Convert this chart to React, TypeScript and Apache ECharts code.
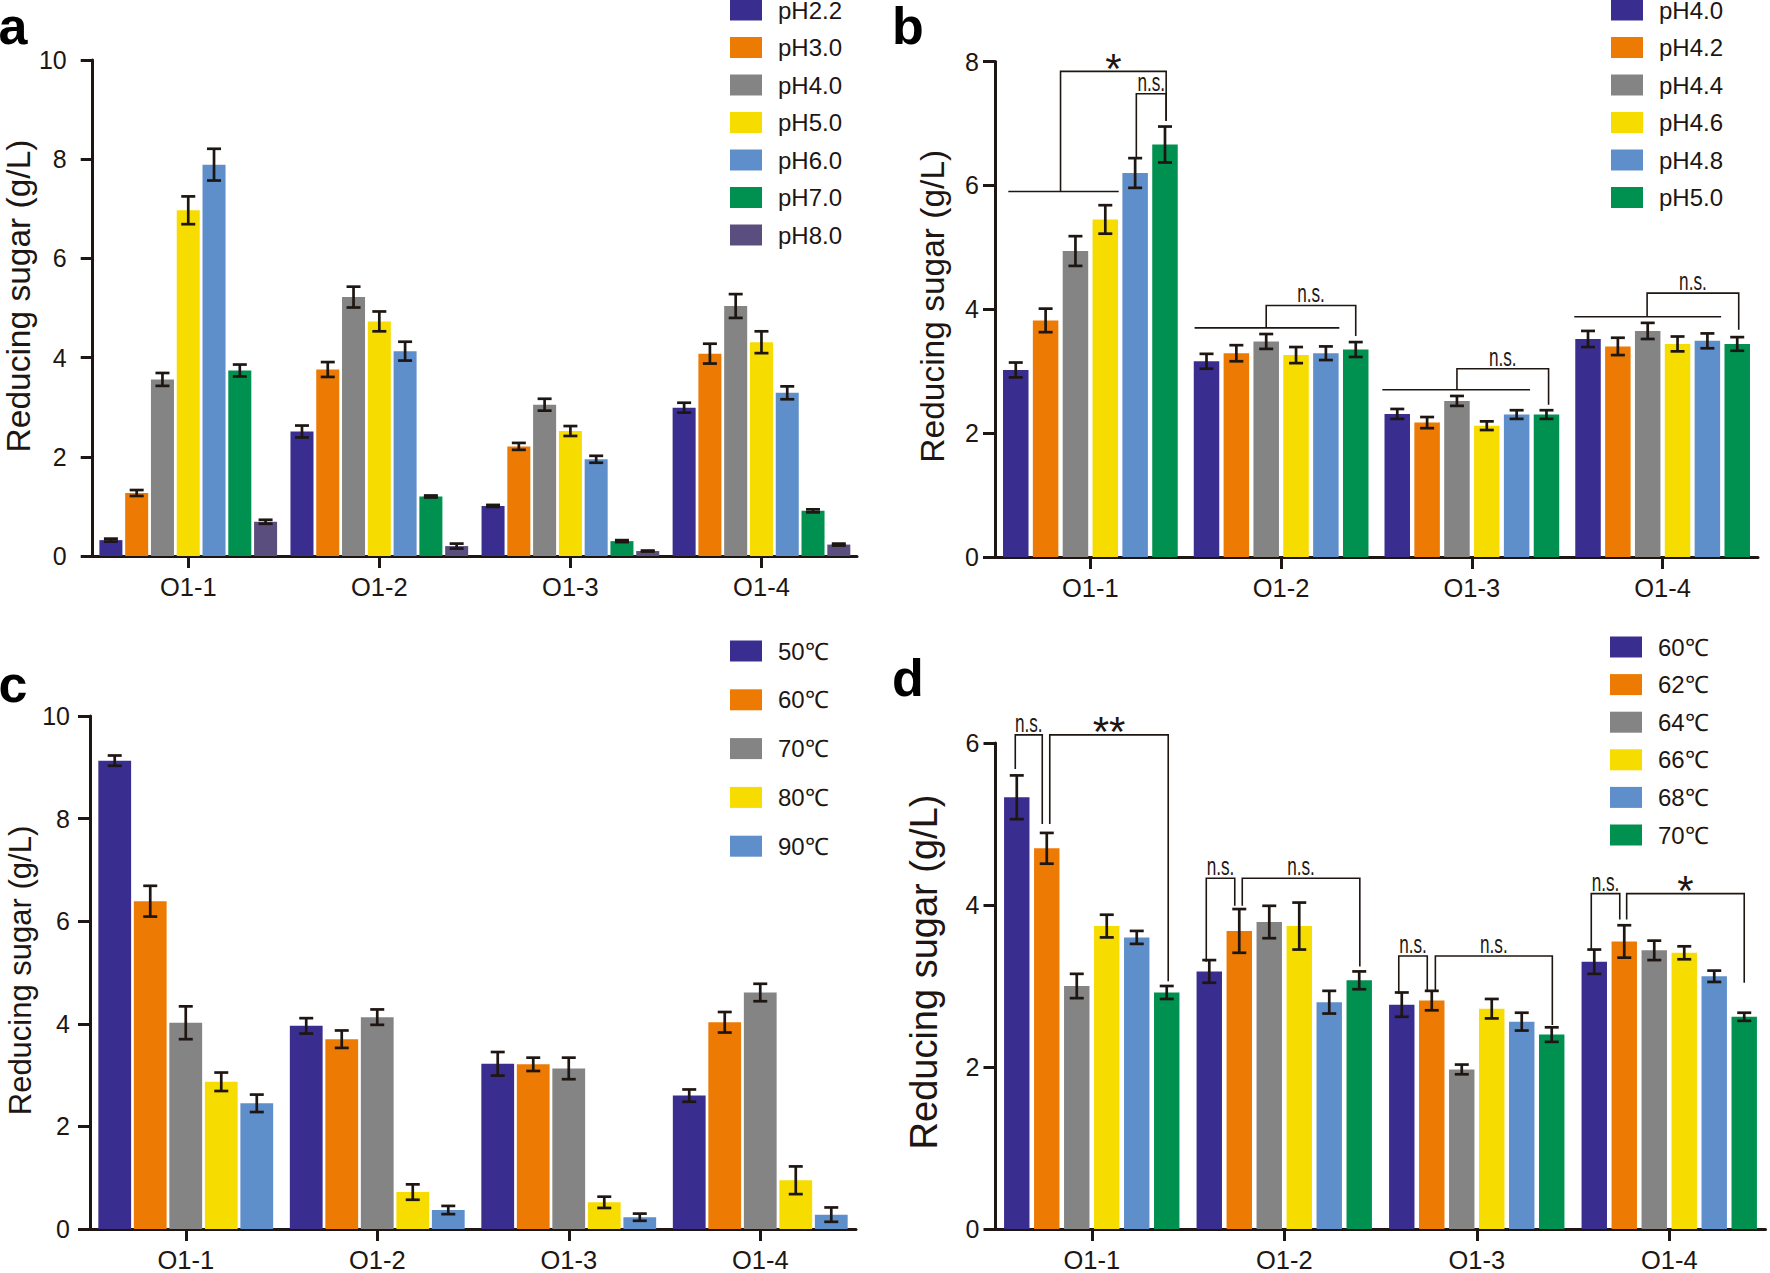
import React, { useEffect, useRef } from 'react';
import * as echarts from 'echarts';

const categories = ['O1-1', 'O1-2', 'O1-3', 'O1-4'];

const NAVY = '#392e8f';
const ORANGE = '#ec7a03';
const GRAY = '#848484';
const YELLOW = '#f7dc00';
const LBLUE = '#5f8fca';
const GREEN = '#009150';
const PURPLE = '#5a4e7e';

// ---- Panel a ----
const aNames = ['pH2.2', 'pH3.0', 'pH4.0', 'pH5.0', 'pH6.0', 'pH7.0', 'pH8.0'];
const aColors = [NAVY, ORANGE, GRAY, YELLOW, LBLUE, GREEN, PURPLE];
const aMeans = [
  [0.32, 2.51, 1.01, 2.99],
  [1.27, 3.76, 2.21, 4.08],
  [3.56, 5.22, 3.05, 5.04],
  [6.97, 4.73, 2.52, 4.31],
  [7.89, 4.13, 1.95, 3.29],
  [3.74, 1.2, 0.3, 0.91],
  [0.69, 0.2, 0.1, 0.23],
];
const aErrs = [
  [0.03, 0.12, 0.02, 0.1],
  [0.06, 0.15, 0.07, 0.2],
  [0.13, 0.21, 0.12, 0.24],
  [0.28, 0.2, 0.1, 0.22],
  [0.32, 0.19, 0.07, 0.13],
  [0.12, 0.02, 0.02, 0.03],
  [0.04, 0.05, 0.01, 0.02],
];

// ---- Panel b ----
const bNames = ['pH4.0', 'pH4.2', 'pH4.4', 'pH4.6', 'pH4.8', 'pH5.0'];
const bColors = [NAVY, ORANGE, GRAY, YELLOW, LBLUE, GREEN];
const bMeans = [
  [3.02, 3.16, 2.31, 3.52],
  [3.82, 3.29, 2.17, 3.4],
  [4.94, 3.48, 2.52, 3.65],
  [5.45, 3.26, 2.12, 3.44],
  [6.2, 3.29, 2.3, 3.49],
  [6.66, 3.35, 2.3, 3.44],
];
const bErrs = [
  [0.12, 0.12, 0.08, 0.13],
  [0.19, 0.13, 0.09, 0.14],
  [0.24, 0.12, 0.08, 0.13],
  [0.23, 0.13, 0.07, 0.12],
  [0.24, 0.11, 0.07, 0.12],
  [0.29, 0.12, 0.07, 0.11],
];
// significance annotations (category index, bar-slot positions, y values)
const bLines = [
  { cat: 0, from: -0.25, to: 3.45, y: 5.9 },
  { cat: 1, from: -0.4, to: 4.45, y: 3.7 },
  { cat: 2, from: -0.5, to: 4.45, y: 2.7 },
  { cat: 3, from: -0.46, to: 4.46, y: 3.88 },
];
const bBrackets = [
  { cat: 0, a: 1.5, ya: 5.9, b: 5.04, yb: 7.04, top: 7.84, text: '*' },
  { cat: 0, a: 4.04, ya: 6.45, b: 5.04, yb: 7.04, top: 7.48, text: 'n.s.' },
  { cat: 1, a: 2.0, ya: 3.7, b: 5.0, yb: 3.57, top: 4.06, text: 'n.s.' },
  { cat: 2, a: 2.0, ya: 2.7, b: 5.07, yb: 2.46, top: 3.04, text: 'n.s.' },
  { cat: 3, a: 1.98, ya: 3.88, b: 5.05, yb: 3.67, top: 4.26, text: 'n.s.' },
];

// ---- Panel c ----
const cNames = ['50℃', '60℃', '70℃', '80℃', '90℃'];
const cColors = [NAVY, ORANGE, GRAY, YELLOW, LBLUE];
const cMeans = [
  [9.13, 3.96, 3.22, 2.6],
  [6.39, 3.7, 3.21, 4.03],
  [4.02, 4.13, 3.13, 4.61],
  [2.87, 0.72, 0.52, 0.95],
  [2.45, 0.37, 0.23, 0.28],
];
const cErrs = [
  [0.1, 0.15, 0.23, 0.12],
  [0.3, 0.17, 0.13, 0.2],
  [0.32, 0.15, 0.21, 0.17],
  [0.18, 0.15, 0.11, 0.27],
  [0.17, 0.08, 0.07, 0.14],
];

// ---- Panel d ----
const dNames = ['60℃', '62℃', '64℃', '66℃', '68℃', '70℃'];
const dColors = [NAVY, ORANGE, GRAY, YELLOW, LBLUE, GREEN];
const dMeans = [
  [5.33, 3.18, 2.77, 3.3],
  [4.7, 3.68, 2.82, 3.55],
  [3.0, 3.79, 1.97, 3.44],
  [3.74, 3.74, 2.72, 3.41],
  [3.6, 2.8, 2.56, 3.12],
  [2.92, 3.07, 2.4, 2.62],
];
const dErrs = [
  [0.27, 0.14, 0.15, 0.15],
  [0.19, 0.27, 0.12, 0.2],
  [0.15, 0.2, 0.06, 0.12],
  [0.14, 0.29, 0.12, 0.08],
  [0.08, 0.14, 0.11, 0.07],
  [0.08, 0.11, 0.09, 0.05],
];
const dBrackets = [
  { cat: 0, a: -0.05, ya: 5.68, b: 0.85, yb: 5.0, top: 6.1, text: 'n.s.' },
  { cat: 0, a: 1.1, ya: 5.0, b: 5.05, yb: 3.06, top: 6.1, text: '**' },
  { cat: 1, a: -0.1, ya: 3.3, b: 0.85, yb: 3.99, top: 4.33, text: 'n.s.' },
  { cat: 1, a: 1.1, ya: 3.99, b: 5.02, yb: 3.24, top: 4.33, text: 'n.s.' },
  { cat: 2, a: -0.1, ya: 2.9, b: 0.85, yb: 2.95, top: 3.37, text: 'n.s.' },
  { cat: 2, a: 1.12, ya: 2.95, b: 5.02, yb: 2.52, top: 3.37, text: 'n.s.' },
  { cat: 3, a: -0.1, ya: 3.45, b: 0.85, yb: 3.82, top: 4.14, text: 'n.s.' },
  { cat: 3, a: 1.08, ya: 3.82, b: 5.0, yb: 3.04, top: 4.14, text: '*' },
];

const SANS = "'Liberation Sans', Arial, sans-serif";
const INK = '#1e1612';

const panels = [
  {
    key: 'a', names: aNames, colors: aColors, means: aMeans, errs: aErrs, max: 10,
    grid: { left: 91, top: 60, width: 766, height: 496 },
    catGap: 0.07, barGap: 0.12, labelMargin: 26,
    legend: { left: 730, top: -2, itemGap: 13.5 },
    letter: { x: -1.5, y: 26 }, nameGap: 54, nameSize: 33.5, nameShift: 24,
    lines: [], brackets: [],
  },
  {
    key: 'b', names: bNames, colors: bColors, means: bMeans, errs: bErrs, max: 8,
    grid: { left: 995, top: 61.5, width: 763, height: 495.5 },
    catGap: 0.084, barGap: 0.17, labelMargin: 16,
    legend: { left: 1611, top: -2, itemGap: 13.5 },
    letter: { x: 892, y: 26 }, nameGap: 46, nameSize: 33.5, nameShift: 6,
    lines: bLines, brackets: bBrackets,
  },
  {
    key: 'c', names: cNames, colors: cColors, means: cMeans, errs: cErrs, max: 10,
    grid: { left: 90, top: 716, width: 766, height: 518 },
    catGap: 0.087, barGap: 0.083, labelMargin: 20,
    legend: { left: 730, top: 639, itemGap: 24.8 },
    letter: { x: -1.5, y: 684 }, nameGap: 54, nameSize: 31, nameShift: 4,
    lines: [], brackets: [],
  },
  {
    key: 'd', names: dNames, colors: dColors, means: dMeans, errs: dErrs, max: 6,
    grid: { left: 995.5, top: 743, width: 770, height: 489.5 },
    catGap: 0.089, barGap: 0.18, labelMargin: 16,
    legend: { left: 1610, top: 635, itemGap: 13.6 },
    letter: { x: 892, y: 678 }, nameGap: 53, nameSize: 38, nameShift: 28,
    lines: [], brackets: dBrackets,
  },
];

function slotX(api: any, cat: number, s: number, n: number, catGap: number, barGap: number) {
  const band = api.size([1, 0])[0];
  const w = (band * (1 - catGap)) / (n + (n - 1) * barGap);
  const total = n * w + (n - 1) * w * barGap;
  const c = api.coord([cat, 0])[0];
  return { x: c - total / 2 + w / 2 + s * w * (1 + barGap), w };
}

function buildOption() {
  const grid: any[] = [];
  const xAxis: any[] = [];
  const yAxis: any[] = [];
  const legend: any[] = [];
  const series: any[] = [];
  const graphic: any[] = [];

  panels.forEach((p, pi) => {
    grid.push({ ...p.grid, containLabel: false });
    xAxis.push({
      type: 'category', gridIndex: pi, data: categories,
      axisLine: { lineStyle: { color: INK, width: 3 } },
      axisTick: { show: true, alignWithLabel: true, length: 12, lineStyle: { color: INK, width: 3 } },
      axisLabel: { color: INK, fontSize: 25.5, fontFamily: SANS, margin: 18 },
      splitLine: { show: false },
    });
    yAxis.push({
      type: 'value', gridIndex: pi, min: 0, max: p.max, interval: 2,
      name: 'Reducing sugar (g/L)', nameLocation: 'middle', nameGap: p.nameGap,
      nameTextStyle: { color: INK, fontSize: p.nameSize, fontFamily: SANS, padding: [0, 0, 0, p.nameShift] },
      axisLine: { show: true, lineStyle: { color: INK, width: 3 } },
      axisTick: { show: true, length: 12, lineStyle: { color: INK, width: 3 } },
      axisLabel: { color: INK, fontSize: 25, fontFamily: SANS, margin: p.labelMargin },
      splitLine: { show: false },
    });
    const legendNames = p.names.map((n) => p.key + '|' + n);
    legend.push({
      data: legendNames, orient: 'vertical', left: p.legend.left, top: p.legend.top,
      itemWidth: 32, itemHeight: 21, itemGap: p.legend.itemGap,
      icon: 'rect', selectedMode: false, padding: 0,
      formatter: (name: string) => name.split('|')[1],
      textStyle: { color: INK, fontSize: 24, fontFamily: SANS, padding: [0, 0, 0, 11] },
    });
    p.names.forEach((n, si) => {
      series.push({
        type: 'bar', name: p.key + '|' + n, xAxisIndex: pi, yAxisIndex: pi,
        data: p.means[si], barGap: p.barGap * 100 + '%', barCategoryGap: p.catGap * 100 + '%',
        itemStyle: { color: p.colors[si] }, z: 2,
      });
    });
    const errData: number[][] = [];
    p.means.forEach((row, si) => row.forEach((m, ci) => errData.push([ci, si, m, p.errs[si][ci]])));
    const n = p.names.length;
    series.push({
      type: 'custom', xAxisIndex: pi, yAxisIndex: pi, z: 5, clip: false,
      encode: { x: 0, y: 2 }, data: errData,
      renderItem: (params: any, api: any) => {
        const cat = api.value(0), s = api.value(1), m = api.value(2), e = api.value(3);
        const { x } = slotX(api, cat, s, n, p.catGap, p.barGap);
        const yt = api.coord([cat, m + e])[1];
        const yb = api.coord([cat, m - e])[1];
        const cap = 7;
        const style = { stroke: INK, lineWidth: 2.7 };
        return {
          type: 'group', children: [
            { type: 'line', shape: { x1: x, y1: yt, x2: x, y2: yb }, style },
            { type: 'line', shape: { x1: x - cap, y1: yt, x2: x + cap, y2: yt }, style },
            { type: 'line', shape: { x1: x - cap, y1: yb, x2: x + cap, y2: yb }, style },
          ],
        };
      },
    });
    if (p.lines.length) {
      series.push({
        type: 'custom', xAxisIndex: pi, yAxisIndex: pi, z: 6, clip: false,
        encode: { x: 0, y: 1 }, data: p.lines.map((l) => [l.cat, l.y]),
        renderItem: (params: any, api: any) => {
          const l = p.lines[params.dataIndex];
          const x1 = slotX(api, l.cat, l.from, n, p.catGap, p.barGap).x;
          const x2 = slotX(api, l.cat, l.to, n, p.catGap, p.barGap).x;
          const y = api.coord([l.cat, l.y])[1];
          return { type: 'line', shape: { x1, y1: y, x2, y2: y }, style: { stroke: INK, lineWidth: 1.6 } };
        },
      });
    }
    if (p.brackets.length) {
      series.push({
        type: 'custom', xAxisIndex: pi, yAxisIndex: pi, z: 6, clip: false,
        encode: { x: 0, y: 1 }, data: p.brackets.map((b) => [b.cat, b.top]),
        renderItem: (params: any, api: any) => {
          const b = p.brackets[params.dataIndex];
          const xa = slotX(api, b.cat, b.a, n, p.catGap, p.barGap).x;
          const xb = slotX(api, b.cat, b.b, n, p.catGap, p.barGap).x;
          const ya = api.coord([b.cat, b.ya])[1];
          const yb = api.coord([b.cat, b.yb])[1];
          const yt = api.coord([b.cat, b.top])[1];
          const star = b.text !== 'n.s.';
          return {
            type: 'group', children: [
              { type: 'polyline', shape: { points: [[xa, ya], [xa, yt], [xb, yt], [xb, yb]] }, style: { stroke: INK, lineWidth: 1.6, fill: null } },
              {
                type: 'text', x: (xa + xb) / 2, y: star ? yt - 3 : yt - 12,
                scaleX: star ? 1 : 0.66,
                style: {
                  text: b.text, x: 0, y: 0, align: 'center', verticalAlign: 'middle',
                  fill: INK, font: star ? `42px ${SANS}` : `26px ${SANS}`,
                },
              },
            ],
          };
        },
      });
    }
    graphic.push({
      type: 'text', x: p.letter.x, y: p.letter.y,
      style: { text: p.key, font: `bold 52px ${SANS}`, fill: '#000', verticalAlign: 'middle' },
    });
  });

  return { animation: false, backgroundColor: '#fff', grid, xAxis, yAxis, legend, series, graphic, tooltip: { show: false } };
}

export default function App() {
  const ref = useRef<HTMLDivElement>(null);
  useEffect(() => {
    document.body.style.margin = '0';
    if (!ref.current) return;
    const chart = echarts.init(ref.current, null, { renderer: 'svg' });
    chart.setOption(buildOption());
    return () => chart.dispose();
  }, []);
  return (
    <div style={{ position: 'fixed', left: 0, top: 0, width: 1770, height: 1273, overflow: 'hidden', background: '#fff' }}>
      <div ref={ref} style={{ width: 1770, height: 1273 }} />
    </div>
  );
}
